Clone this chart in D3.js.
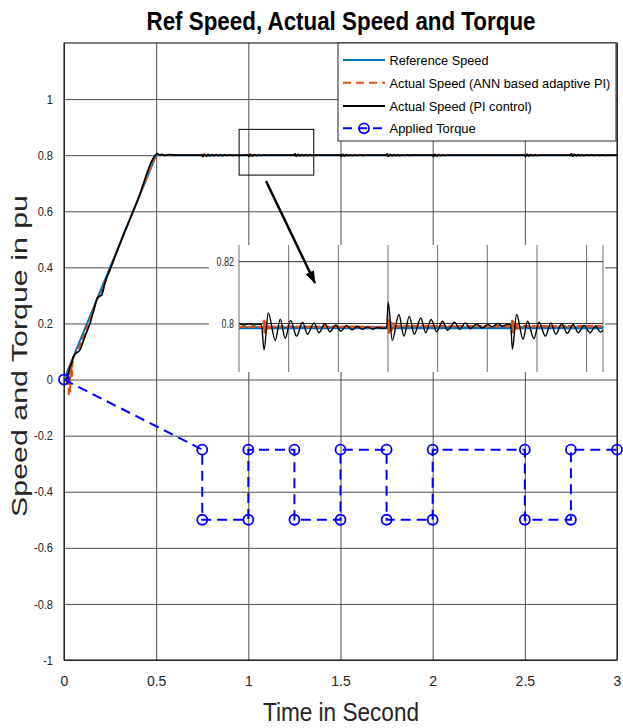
<!DOCTYPE html>
<html><head><meta charset="utf-8">
<script src="https://cdn.jsdelivr.net/npm/d3@7"></script>
<style>
html,body{margin:0;padding:0;background:#fff;}
svg{display:block;font-family:"Liberation Sans",Arial,Helvetica,sans-serif;}
</style></head><body>
<svg id="c" width="623" height="728"></svg>
<script>
// ---------------- data ----------------
const timeTicks=[0,0.5,1,1.5,2,2.5,3];
const speedTicks=[-1,-0.8,-0.6,-0.4,-0.2,0,0.2,0.4,0.6,0.8,1];
const seriesNames=["Reference Speed","Actual Speed (ANN based adaptive PI)","Actual Speed (PI control)","Applied Torque"];

const refSpeed=[[0,0],[0.5,0.8],[3,0.8]];

const annSpeed=[[0,0],[0.012,0.004],[0.018,-0.02],[0.022,0.03],[0.026,-0.06],[0.03,0.05],[0.034,-0.045],[0.038,0.062],[0.043,0.01],[0.048,0.07],[0.06,0.088],[0.08,0.112],[0.1,0.145],[0.12,0.18],[0.14,0.21],[0.16,0.25],[0.175,0.28],[0.19,0.295],[0.21,0.32],[0.23,0.36],[0.26,0.41],[0.3,0.478],[0.4,0.64],[0.5,0.8],
[0.75,0.8],[0.752,0.804],[0.754,0.796],[0.757,0.802],[0.76,0.8],[1,0.8],[1.002,0.804],[1.004,0.796],[1.007,0.802],[1.01,0.8],
[1.25,0.8],[1.252,0.805],[1.254,0.795],[1.257,0.802],[1.26,0.8],[1.5,0.8],[1.502,0.804],[1.504,0.796],[1.507,0.802],[1.51,0.8],
[1.75,0.8],[1.752,0.805],[1.754,0.795],[1.757,0.802],[1.76,0.8],[2,0.8],[2.002,0.804],[2.004,0.796],[2.007,0.802],[2.01,0.8],
[2.5,0.8],[2.502,0.804],[2.504,0.796],[2.507,0.802],[2.51,0.8],[2.75,0.8],[2.752,0.805],[2.754,0.795],[2.757,0.802],[2.76,0.8],[3,0.8]];

const piSpeed=[[0,0],[0.01,0],[0.02,0.012],[0.03,0.04],[0.042,0.06],[0.05,0.08],[0.06,0.09],[0.087,0.107],[0.114,0.155],[0.141,0.2],[0.168,0.262],[0.181,0.292],[0.195,0.298],[0.205,0.302],[0.222,0.345],[0.25,0.393],[0.313,0.5],[0.4,0.64],[0.49,0.795],[0.505,0.806],[0.52,0.8],[0.53,0.803],[0.55,0.799],[0.57,0.802],[0.6,0.8],
[0.75,0.8],[0.754,0.795],[0.762,0.804],[0.772,0.796],[0.782,0.803],[0.792,0.797],[0.803,0.8025],[0.814,0.7975],[0.825,0.802],[0.836,0.798],[0.848,0.8015],[0.86,0.7985],[0.872,0.801],[0.885,0.799],[0.9,0.8008],[0.915,0.7992],[0.93,0.8005],[0.95,0.7995],[0.97,0.8],
[1.0,0.8],[1.004,0.7955],[1.012,0.803],[1.022,0.797],[1.032,0.802],[1.043,0.798],[1.055,0.8012],[1.068,0.7988],[1.08,0.8005],[1.1,0.7997],[1.15,0.8],
[1.25,0.8],[1.253,0.805],[1.26,0.796],[1.27,0.803],[1.28,0.7975],[1.29,0.8022],[1.3,0.798],[1.31,0.8015],[1.322,0.7985],[1.334,0.801],[1.346,0.799],[1.36,0.8005],[1.4,0.8],
[1.5,0.8],[1.504,0.7955],[1.512,0.803],[1.522,0.797],[1.532,0.802],[1.543,0.798],[1.554,0.8015],[1.566,0.7985],[1.578,0.801],[1.59,0.799],[1.605,0.8006],[1.62,0.7995],[1.65,0.8],
[1.75,0.8],[1.753,0.805],[1.76,0.796],[1.77,0.803],[1.78,0.7975],[1.79,0.8022],[1.8,0.798],[1.81,0.8015],[1.822,0.7985],[1.834,0.801],[1.846,0.799],[1.86,0.8008],[1.875,0.7993],[1.89,0.8005],[1.92,0.8],
[2.0,0.8],[2.004,0.7955],[2.012,0.803],[2.022,0.797],[2.032,0.802],[2.043,0.798],[2.055,0.8012],[2.068,0.7988],[2.08,0.8006],[2.1,0.7997],[2.15,0.8],
[2.5,0.8],[2.504,0.7955],[2.512,0.803],[2.522,0.797],[2.532,0.802],[2.543,0.798],[2.555,0.8012],[2.568,0.7988],[2.58,0.8005],[2.6,0.8],
[2.75,0.8],[2.753,0.805],[2.76,0.796],[2.77,0.803],[2.78,0.7975],[2.79,0.8022],[2.8,0.798],[2.81,0.8015],[2.822,0.7985],[2.834,0.801],[2.846,0.799],[2.86,0.8008],[2.875,0.7993],[2.89,0.8006],[2.905,0.7994],[2.92,0.8005],[2.94,0.7996],[2.96,0.8004],[2.98,0.7997],[3.0,0.8]];

const appliedTorque=[[0,0],[0.75,-0.25],[0.75,-0.5],[1,-0.5],[1,-0.25],[1.25,-0.25],[1.25,-0.5],[1.5,-0.5],[1.5,-0.25],[1.75,-0.25],[1.75,-0.5],[2,-0.5],[2,-0.25],[2.5,-0.25],[2.5,-0.5],[2.75,-0.5],[2.75,-0.25],[3,-0.25]];

// zoomed region marked on the main axes (time / speed)
const zoomTime=[0.95,1.355];
const zoomSpeed=[0.729,0.892];

// inset (zoomed view) data
const insetTimeDomain=[0.95,1.683];
const insetSpeedDomain=[0.7843,0.8254];
const insetTimeGrid=[0.95,1.05,1.15,1.25,1.35,1.45,1.55,1.65];
const insetTicks=[0.8,0.82];
const insetRef=[[0.95,0.7986],[1.683,0.7986]];
const insetAnn=[[0.95,0.7989],[0.999,0.7989],[1.0005,0.8012],[1.0015,0.7968],[1.0025,0.8008],[1.0035,0.7974],[1.005,0.8003],[1.007,0.7981],[1.01,0.7996],[1.014,0.7986],[1.02,0.799],
[1.249,0.7989],[1.2505,0.8015],[1.2515,0.7965],[1.2525,0.8012],[1.2535,0.797],[1.255,0.8008],[1.257,0.7976],[1.26,0.8003],[1.264,0.7984],[1.27,0.7992],
[1.499,0.7991],[1.5005,0.8012],[1.5015,0.7968],[1.5025,0.8008],[1.5035,0.7974],[1.505,0.8003],[1.507,0.7981],[1.51,0.7996],[1.514,0.7986],[1.52,0.7991],[1.683,0.7991]];
const insetPi=[[0.95,0.8],[0.96,0.7995],[0.97,0.7999],[0.98,0.7995],[0.988,0.7998],[0.995,0.7997],
[1.0005,0.7915],[1.009,0.8034],[1.023,0.7945],[1.033,0.8014],[1.043,0.7952],[1.054,0.801],[1.066,0.7959],[1.078,0.8004],[1.088,0.7965],[1.101,0.8002],[1.111,0.797],[1.123,0.7999],[1.133,0.7973],[1.145,0.7995],[1.155,0.7975],[1.167,0.7994],[1.178,0.7979],[1.188,0.7991],[1.198,0.7981],[1.209,0.7989],[1.219,0.7982],[1.229,0.7987],[1.239,0.7984],[1.247,0.7986],
[1.2505,0.8068],[1.2586,0.7946],[1.272,0.8029],[1.282,0.7959],[1.293,0.8023],[1.303,0.7965],[1.316,0.8018],[1.326,0.797],[1.337,0.8013],[1.348,0.7973],[1.36,0.8007],[1.37,0.7978],[1.384,0.8004],[1.394,0.7981],[1.406,0.8002],[1.416,0.7983],[1.429,0.7999],[1.439,0.7985],[1.451,0.7997],[1.46,0.7989],[1.471,0.8],[1.481,0.7991],[1.491,0.7998],[1.497,0.7995],
[1.5005,0.7917],[1.509,0.8029],[1.522,0.7949],[1.531,0.8007],[1.544,0.7951],[1.554,0.8004],[1.567,0.7959],[1.578,0.8002],[1.588,0.7965],[1.6,0.7999],[1.611,0.7968],[1.623,0.7997],[1.633,0.797],[1.645,0.7994],[1.657,0.797],[1.668,0.7991],[1.678,0.7972],[1.683,0.7978]];

// ---------------- drawing ----------------
const C={ref:"#0072BD",ann:"#D95319",pi:"#000000",tq:"#0000FF",grid:"#4d4d4d"};
const svg=d3.select("#c");
const M={l:64,r:617,t:43,b:660};
const x=d3.scaleLinear().domain([0,3]).range([M.l,M.r]);
const y=d3.scaleLinear().domain([-1,1.2]).range([M.b,M.t]);

function condense(sel,k){sel.each(function(){const w=this.getComputedTextLength();this.setAttribute("textLength",w*k);this.setAttribute("lengthAdjust","spacingAndGlyphs");});}

// grid
const gx=svg.append("g").attr("transform",`translate(0,${M.b})`)
  .call(d3.axisBottom(x).tickValues(timeTicks).tickSize(-(M.b-M.t)).tickFormat(""));
gx.select(".domain").remove();
gx.selectAll("line").attr("stroke",C.grid).attr("stroke-width",1);
const gy=svg.append("g").attr("transform",`translate(${M.l},0)`)
  .call(d3.axisLeft(y).tickValues(speedTicks).tickSize(-(M.r-M.l)).tickFormat(""));
gy.select(".domain").remove();
gy.selectAll("line").attr("stroke",C.grid).attr("stroke-width",1);

// box
svg.append("rect").attr("x",M.l).attr("y",M.t).attr("width",M.r-M.l).attr("height",M.b-M.t)
  .attr("fill","none").attr("stroke","#000").attr("stroke-width",1);

// tick labels
const ax=svg.append("g").attr("transform",`translate(0,${M.b})`)
  .call(d3.axisBottom(x).tickValues(timeTicks).tickSize(0).tickPadding(16).tickFormat(d=>String(d)));
ax.select(".domain").remove();
ax.selectAll("text").attr("font-size",14).attr("fill","#262626").attr("font-family",'"Liberation Sans",Arial,sans-serif');
const ay=svg.append("g").attr("transform",`translate(${M.l},0)`)
  .call(d3.axisLeft(y).tickValues(speedTicks).tickSize(0).tickPadding(11).tickFormat(d=>String(d)));
ay.select(".domain").remove();
ay.selectAll("text").attr("font-size",13).attr("fill","#262626").attr("font-family",'"Liberation Sans",Arial,sans-serif');
condense(ay.selectAll("text"),0.85);

// series
const line=d3.line().x(d=>x(d[0])).y(d=>y(d[1]));
const smooth=d3.line().x(d=>x(d[0])).y(d=>y(d[1])).curve(d3.curveMonotoneX);
svg.append("path").datum(refSpeed).attr("d",line).attr("fill","none").attr("stroke",C.ref).attr("stroke-width",2);
svg.append("path").datum(annSpeed).attr("d",line).attr("fill","none").attr("stroke",C.ann).attr("stroke-width",1.8).attr("stroke-dasharray","7,3");
svg.append("path").datum(piSpeed).attr("d",smooth).attr("fill","none").attr("stroke",C.pi).attr("stroke-width",1.7);
svg.append("path").datum(appliedTorque).attr("d",line).attr("fill","none").attr("stroke",C.tq).attr("stroke-width",2).attr("stroke-dasharray","10,6");
svg.append("g").selectAll("circle").data(appliedTorque).join("circle")
  .attr("cx",d=>x(d[0])).attr("cy",d=>y(d[1])).attr("r",5)
  .attr("fill","none").attr("stroke",C.tq).attr("stroke-width",1.8);

// zoom rectangle
svg.append("rect").attr("x",x(zoomTime[0])).attr("y",y(zoomSpeed[1]))
  .attr("width",x(zoomTime[1])-x(zoomTime[0])).attr("height",y(zoomSpeed[0])-y(zoomSpeed[1]))
  .attr("fill","none").attr("stroke","#000").attr("stroke-width",1);

// inset
const I={l:239,r:603,t:245,b:372};
svg.append("rect").attr("x",209).attr("y",I.t).attr("width",605-209).attr("height",I.b-I.t).attr("fill","#fff");
const ix=d3.scaleLinear().domain(insetTimeDomain).range([I.l,I.r]);
const iy=d3.scaleLinear().domain(insetSpeedDomain).range([I.b,I.t]);
const ig=svg.append("g");
ig.append("defs").append("clipPath").attr("id","iclip").append("rect")
  .attr("x",I.l).attr("y",I.t).attr("width",I.r-I.l).attr("height",I.b-I.t);
ig.selectAll("line.vg").data(insetTimeGrid.concat([insetTimeDomain[1]])).join("line").attr("class","vg")
  .attr("x1",d=>ix(d)).attr("x2",d=>ix(d)).attr("y1",I.t).attr("y2",I.b)
  .attr("stroke","#6e6e6e").attr("stroke-width",1);
ig.selectAll("line.hg").data(insetTicks).join("line").attr("class","hg")
  .attr("x1",I.l).attr("x2",I.r).attr("y1",d=>iy(d)).attr("y2",d=>iy(d))
  .attr("stroke","#333").attr("stroke-width",1);
const iyl=ig.append("g").selectAll("text").data(insetTicks).join("text")
  .attr("x",I.l-5).attr("y",d=>iy(d)).attr("dy","0.35em").attr("text-anchor","end")
  .attr("font-size",12.5).attr("fill","#262626").text(d=>String(d));
condense(iyl,0.72);
const ipath=ig.append("g").attr("clip-path","url(#iclip)");
const iline=d3.line().x(d=>ix(d[0])).y(d=>iy(d[1]));
const ismooth=d3.line().x(d=>ix(d[0])).y(d=>iy(d[1])).curve(d3.curveMonotoneX);
ipath.append("path").datum(insetRef).attr("d",iline).attr("fill","none").attr("stroke",C.ref).attr("stroke-width",3);
ipath.append("path").datum(insetAnn).attr("d",iline).attr("fill","none").attr("stroke",C.ann).attr("stroke-width",2.4).attr("stroke-dasharray","7,2");
ipath.append("path").datum(insetPi).attr("d",ismooth).attr("fill","none").attr("stroke",C.pi).attr("stroke-width",1.4);

// arrow
const defs=svg.append("defs");
defs.append("marker").attr("id","ah").attr("markerUnits","userSpaceOnUse")
  .attr("viewBox","0 -6 14 12").attr("markerWidth",14).attr("markerHeight",12)
  .attr("refX",12).attr("refY",0).attr("orient","auto")
  .append("path").attr("d","M0,-4.5L13,0L0,4.5Z").attr("fill","#000");
svg.append("line").attr("x1",266).attr("y1",181).attr("x2",315).attr("y2",283)
  .attr("stroke","#000").attr("stroke-width",2.5).attr("marker-end","url(#ah)");

// legend
const L={x:338,y:43,w:278,h:98};
const lg=svg.append("g");
lg.append("rect").attr("x",L.x).attr("y",L.y).attr("width",L.w).attr("height",L.h)
  .attr("fill","#fff").attr("stroke","#262626").attr("stroke-width",1);
const rowY=[60,82.7,106,128.3];
const legW=[99,220.7,142.3,86.3];
const legStyle=[{c:C.ref,d:null,w:2},{c:C.ann,d:"8,5",w:2},{c:C.pi,d:null,w:2},{c:C.tq,d:"9,6",w:2}];
seriesNames.forEach((n,i)=>{
  lg.append("line").attr("x1",343).attr("x2",385).attr("y1",rowY[i]).attr("y2",rowY[i])
    .attr("stroke",legStyle[i].c).attr("stroke-width",legStyle[i].w).attr("stroke-dasharray",legStyle[i].d);
  if(i===3) lg.append("circle").attr("cx",364).attr("cy",rowY[i]).attr("r",5).attr("fill","none").attr("stroke",C.tq).attr("stroke-width",1.8);
  lg.append("text").attr("x",389.5).attr("y",rowY[i]+5).attr("font-size",13).attr("fill","#000")
    .attr("textLength",legW[i]).attr("lengthAdjust","spacingAndGlyphs").text(n);
});

// titles
svg.append("text").attr("x",341).attr("y",30).attr("text-anchor","middle")
  .attr("font-size",25).attr("font-weight","bold").attr("textLength",389).attr("lengthAdjust","spacingAndGlyphs")
  .text("Ref Speed, Actual Speed and Torque");
svg.append("text").attr("x",341).attr("y",721).attr("text-anchor","middle")
  .attr("font-size",26).attr("fill","#262626").attr("textLength",156).attr("lengthAdjust","spacingAndGlyphs")
  .text("Time in Second");
svg.append("text").attr("transform","translate(27,356) scale(0.78,1) rotate(-90)").attr("text-anchor","middle")
  .attr("font-size",29).attr("fill","#262626").attr("textLength",322).attr("lengthAdjust","spacingAndGlyphs")
  .text("Speed and Torque in pu");
</script></body></html>
